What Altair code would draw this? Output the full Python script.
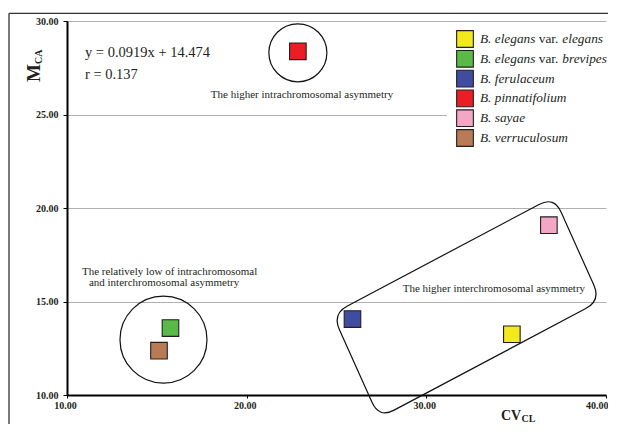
import math
import altair as alt
import pandas as pd

# ---------------- data ----------------
species = ["B. elegans var. elegans", "B. elegans var. brevipes", "B. ferulaceum",
           "B. pinnatifolium", "B. sayae", "B. verruculosum"]
cv_cl = [34.76, 15.76, 25.89, 22.85, 36.82, 15.12]
m_ca = [13.25, 13.58, 14.06, 28.38, 19.08, 12.37]
colors = ["#F2EA1B", "#5AB947", "#3F4C9F", "#EC1D25", "#F4A7C4", "#B97A56"]

x_ticks = [10, 20, 30, 40]
y_ticks = [10, 15, 20, 25, 30]

equation_text = ["y = 0.0919x + 14.474", "r = 0.137"]
equation_x = [11.0, 11.0]
equation_y = [28.29, 27.10]

left_notes = ["The relatively low of intrachromosomal", "and interchromosomal asymmetry"]
left_notes_x = [10.83, 11.22]
left_notes_y = [16.57, 15.98]

center_notes = ["The higher intrachromosomal asymmetry", "The higher interchromosomal asymmetry"]
center_notes_x = [23.08, 33.76]
center_notes_y = [26.03, 15.66]

circle_x = [22.85, 15.37]
circle_y = [28.30, 12.96]
circle_diam = [58, 87]

box_x = [32.24]
box_y = [14.69]

FONT = "Liberation Serif"
INK = "#231F20"
W, H = 539, 374

xs = alt.Scale(domain=[10, 40], nice=False, zero=False)
ys = alt.Scale(domain=[10, 30], nice=False, zero=False)

pts = pd.DataFrame({"species": species, "cv": cv_cl, "mca": m_ca})

scatter = alt.Chart(pts).mark_point(shape="square", filled=True, size=275, opacity=1,
                                     stroke=INK, strokeWidth=1.1).encode(
    x=alt.X("cv:Q", scale=xs,
            axis=alt.Axis(values=x_ticks, format=".2f", title=None, grid=False,
                          labelFont=FONT, labelFontWeight="bold", labelFontSize=10,
                          labelColor=INK, domainColor="#000", domainWidth=2,
                          tickColor="#000", tickSize=3, labelPadding=2,
                          labelFlush=False,
                          labelAlign=alt.expr("datum.value >= 40 ? 'right' : 'center'"),
                          labelOffset=alt.expr("datum.value >= 40 ? 2 : -2"))),
    y=alt.Y("mca:Q", scale=ys,
            axis=alt.Axis(values=y_ticks, format=".2f", title=None, grid=True,
                          gridColor="#B0B0B0", gridWidth=1,
                          labelFont=FONT, labelFontWeight="bold", labelFontSize=10,
                          labelColor=INK, domainColor="#000", domainWidth=2,
                          tickColor="#000", tickSize=4, labelPadding=5)),
    color=alt.Color("species:N", scale=alt.Scale(domain=species, range=colors), legend=None),
)

# circles around groups
circ_df = pd.DataFrame({"x": circle_x, "y": circle_y, "s": [d * d for d in circle_diam]})
circles = alt.Chart(circ_df).mark_point(shape="circle", filled=False, stroke="#111",
                                        strokeWidth=1.2, opacity=1).encode(
    x=alt.X("x:Q", scale=xs), y=alt.Y("y:Q", scale=ys),
    size=alt.Size("s:Q", scale=None, legend=None))

# rounded (skewed) rectangle around inter-chromosomal group
def rounded_path(corners, r, unit):
    n = len(corners)
    def toward(a, b, d):
        dx, dy = b[0] - a[0], b[1] - a[1]
        L = math.hypot(dx, dy)
        return (a[0] + dx / L * d, a[1] + dy / L * d)
    segs = []
    for i in range(n):
        p0, p1, p2 = corners[i - 1], corners[i], corners[(i + 1) % n]
        segs.append((toward(p1, p0, r), p1, toward(p1, p2, r)))
    f = lambda p: f"{p[0] / unit:.4f},{p[1] / unit:.4f}"
    s = "M" + f(segs[0][2])
    for i in range(1, n + 1):
        a, c, b = segs[i % n]
        s += " L" + f(a) + " Q" + f(c) + " " + f(b)
    return s + " Z"

corners_px = [(-134.2, 6.7), (87.5, -110.8), (134.2, -6.7), (-87.5, 110.8)]
unit = 150.0
box_shape = rounded_path(corners_px, 17, unit)
box = alt.Chart(pd.DataFrame({"x": box_x, "y": box_y})).mark_point(
    shape=box_shape, size=(2 * unit) ** 2, filled=False, stroke="#111",
    strokeWidth=1.2, opacity=1).encode(
    x=alt.X("x:Q", scale=xs), y=alt.Y("y:Q", scale=ys))

# annotation texts
eq = alt.Chart(pd.DataFrame({"t": equation_text, "x": equation_x, "y": equation_y})).mark_text(
    font=FONT, fontSize=14.5, color=INK, align="left", baseline="middle").encode(
    x=alt.X("x:Q", scale=xs), y=alt.Y("y:Q", scale=ys), text="t:N")
notes_l = alt.Chart(pd.DataFrame({"t": left_notes, "x": left_notes_x, "y": left_notes_y})).mark_text(
    font=FONT, fontSize=11, color=INK, align="left", baseline="middle").encode(
    x=alt.X("x:Q", scale=xs), y=alt.Y("y:Q", scale=ys), text="t:N")
notes_c = alt.Chart(pd.DataFrame({"t": center_notes, "x": center_notes_x, "y": center_notes_y})).mark_text(
    font=FONT, fontSize=11, color=INK, align="center", baseline="middle").encode(
    x=alt.X("x:Q", scale=xs), y=alt.Y("y:Q", scale=ys), text="t:N")

# frame lines of the chart area
frame_v = alt.Chart().mark_rule(color="#333", strokeWidth=1.3).encode(
    x=alt.value(-58), y=alt.value(-7.7), y2=alt.value(H + 40))
frame_h = alt.Chart().mark_rule(color="#333", strokeWidth=1.3).encode(
    x=alt.value(-58), x2=alt.value(W + 20), y=alt.value(-7.7))

# manual legend
legend_layers = [alt.Chart().mark_rect(color="white").encode(
    x=alt.value(380), x2=alt.value(W + 10), y=alt.value(5), y2=alt.value(129))]
LFS = 13.3
for i, (name, col) in enumerate(zip(species, colors)):
    yy = 18 + i * 19.8
    legend_layers.append(alt.Chart().mark_point(
        shape="square", filled=True, size=16.7 ** 2, color=col, opacity=1,
        stroke=INK, strokeWidth=1.1).encode(x=alt.value(398), y=alt.value(yy)))
    if " var. " in name:
        a, b = name.split(" var. ")
        segs = [(a, "italic", 413), ("var.", "normal", 413 + 4.416 * LFS),
                (b, "italic", 413 + 6.193 * LFS)]
    else:
        segs = [(name, "italic", 413)]
    for txt, style, xx in segs:
        legend_layers.append(alt.Chart().mark_text(
            font=FONT, fontSize=LFS, fontStyle=style, color=INK, align="left",
            baseline="middle").encode(x=alt.value(xx), y=alt.value(yy), text=alt.value(txt)))

# axis titles with subscripts
titles = [
    alt.Chart().mark_text(font=FONT, fontSize=19, fontWeight="bold", color=INK, angle=270,
                          align="left", baseline="alphabetic").encode(
        x=alt.value(-27), y=alt.value(61), text=alt.value("M")),
    alt.Chart().mark_text(font=FONT, fontSize=10, fontWeight="bold", color=INK, angle=270,
                          align="left", baseline="alphabetic").encode(
        x=alt.value(-25.5), y=alt.value(43), text=alt.value("CA")),
    alt.Chart().mark_text(font=FONT, fontSize=14, fontWeight="bold", color=INK,
                          align="left", baseline="alphabetic").encode(
        x=alt.value(434), y=alt.value(398.5), text=alt.value("CV")),
    alt.Chart().mark_text(font=FONT, fontSize=10, fontWeight="bold", color=INK,
                          align="left", baseline="alphabetic").encode(
        x=alt.value(454.5), y=alt.value(400.5), text=alt.value("CL")),
]

chart = alt.layer(
    frame_v, frame_h, circles, box, *legend_layers, eq, notes_l, notes_c, scatter, *titles
).properties(
    width=W, height=H,
    autosize=alt.AutoSizeParams(type="none"),
    padding={"left": 59, "top": 13, "right": 2, "bottom": 29},
    background="white",
).configure_view(stroke=None)

chart.save("out.html", embed_options={"renderer": "svg", "actions": False})
